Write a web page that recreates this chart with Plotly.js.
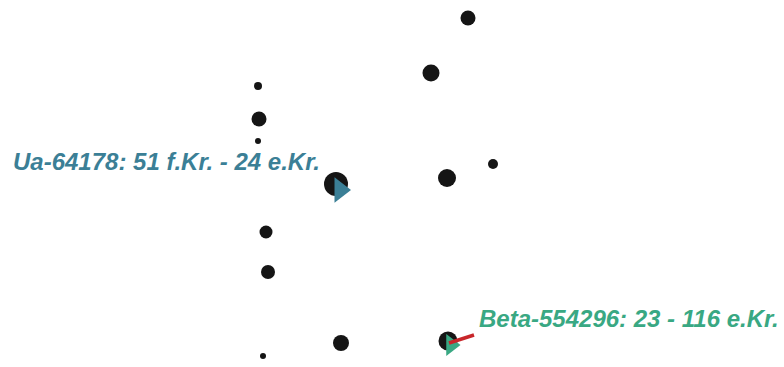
<!DOCTYPE html>
<html>
<head>
<meta charset="utf-8">
<script src="https://cdn.plot.ly/plotly-3.0.1.min.js"></script>
<style>html,body{margin:0;padding:0;background:#fff;}#chart{width:784px;height:367px;}</style>
</head>
<body>
<div id="chart"></div>
<script>
// Feature (posthole) positions in plan coordinates
const holeX = [468, 431, 258, 259, 258, 336, 447, 493, 266, 268, 341, 448, 263];
const holeY = [18, 73, 86, 119, 141, 184, 178, 164, 232, 272, 343, 341, 356];
const holeSize = [15, 17, 8, 15, 6, 24, 18, 10, 13, 14, 16, 19, 6];

// Dated samples
const sampleLabels = ["Ua-64178: 51 f.Kr. - 24 e.Kr.", "Beta-554296: 23 - 116 e.Kr."];
const sampleX = [340, 451];
const sampleY = [190, 345];
const sampleSize = [22, 19];
const labelX = [11, 477];
const labelY = [161, 318];
const sampleColors = ["#3b7f96", "#39a883"];

// Sample direction line for Beta-554296
const lineX = [449, 474];
const lineY = [343, 335];

const traces = [
  {
    type: "scatter", mode: "markers", x: holeX, y: holeY,
    marker: {color: "#151515", opacity: 1, size: holeSize, symbol: "circle", line: {width: 0}},
    hoverinfo: "skip", showlegend: false
  }
];
sampleX.forEach((sx, i) => {
  traces.push({
    type: "scatter", mode: "markers", x: [sx], y: [sampleY[i]],
    marker: {color: sampleColors[i], opacity: 1, size: sampleSize[i], symbol: "triangle-right", line: {width: 0}},
    hoverinfo: "skip", showlegend: false
  });
});
traces.push({
  type: "scatter", mode: "lines", x: lineX, y: lineY,
  line: {color: "#c8262a", width: 3.5}, hoverinfo: "skip", showlegend: false
});

const annotations = sampleLabels.map((t, i) => ({
  x: labelX[i], y: labelY[i], xref: "x", yref: "y",
  text: "<b><i>" + t + "</i></b>", showarrow: false,
  xanchor: "left", yanchor: "middle",
  font: {family: "Liberation Sans, Arial, sans-serif", size: 24, color: sampleColors[i]}
}));

const layout = {
  width: 784, height: 367,
  margin: {l: 0, r: 0, t: 0, b: 0},
  paper_bgcolor: "#ffffff", plot_bgcolor: "#ffffff",
  xaxis: {range: [0, 784], visible: false, fixedrange: true},
  yaxis: {range: [367, 0], visible: false, fixedrange: true},
  annotations: annotations,
  showlegend: false
};

Plotly.newPlot("chart", traces, layout, {displayModeBar: false, staticPlot: true});
</script>
</body>
</html>
